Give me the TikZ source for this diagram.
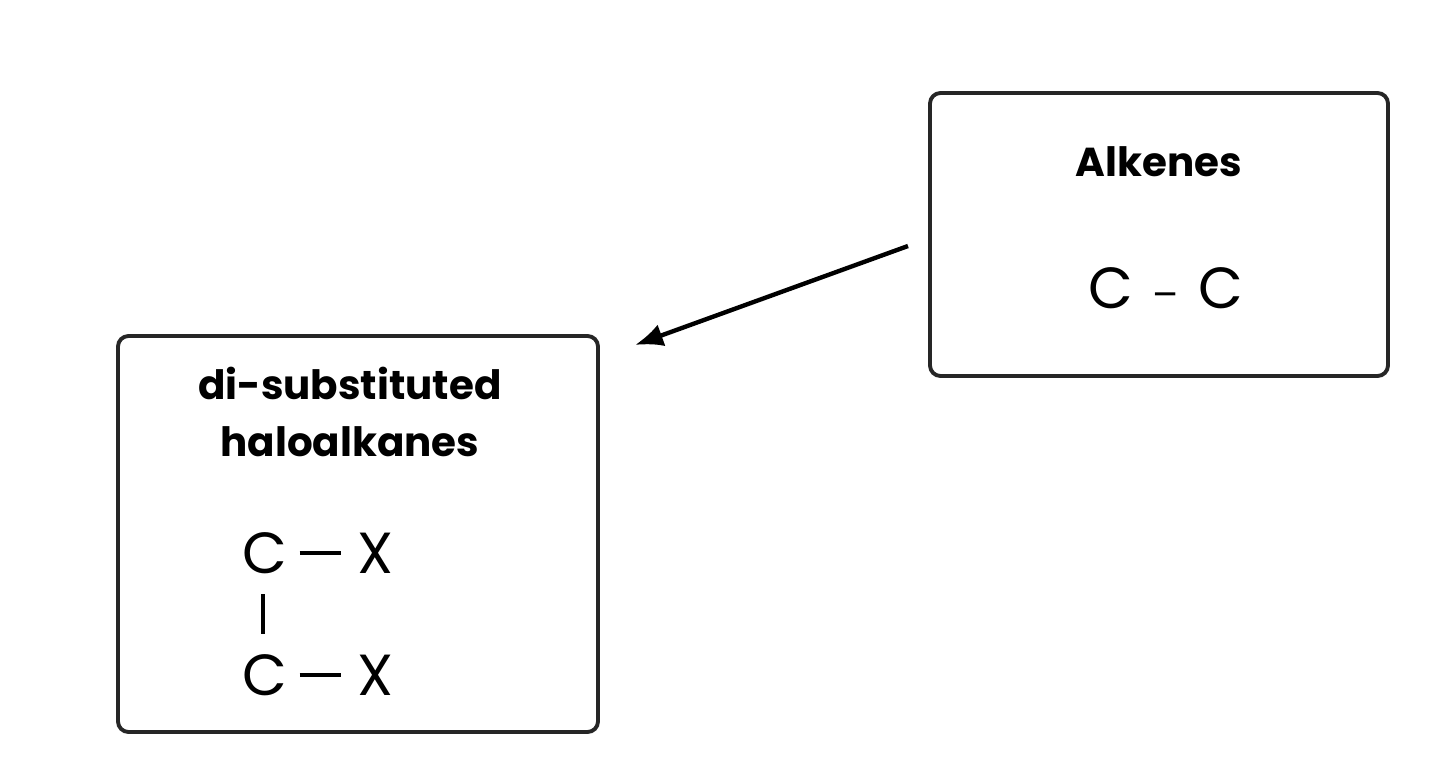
\documentclass[tikz,border=0pt]{standalone}
\usepackage{fontspec}
\setmainfont{Poppins}
\usetikzlibrary{calc,arrows.meta}
\begin{document}
\begin{tikzpicture}[x=0.02cm,y=-0.02cm,
  box/.style={draw=black!85,line width=2.2pt,rounded corners=6pt},
  title/.style={font=\fontsize{23}{30}\selectfont\bfseries,align=center},
  atom/.style={font=\fontsize{33}{36}\selectfont,inner sep=0pt},
  bond/.style={line width=1.8pt}]
\useasboundingbox (0,0) rectangle (1444,768);
\draw[box] (930,93) rectangle (1388,376);
\draw[box] (118,336) rectangle (598,732);
\node[title] (alk) at (1159,162) {Alkenes};
\node[atom] (cc) at (1166,288) {C\,\,{\fontsize{22}{24}\selectfont –}\,\,C};
\node[title,font=\fontsize{23}{32}\selectfont\bfseries] (hal) at (350,412) {di-substituted\\haloalkanes};
\node[atom] (c1) at (265,553) {C};
\node[atom] (x1) at (375,553) {X};
\node[atom] (c2) at (265,675) {C};
\node[atom] (x2) at (375,675) {X};
\draw[bond] ($(c1.east)+(12,0)$) -- ($(x1.west)+(-16,0)$);
\draw[bond] ($(c2.east)+(12,0)$) -- ($(x2.west)+(-16,0)$);
\draw[bond] ($(c1.south)+(-2,20)$) -- ($(c2.north)+(-2,-20)$);
\coordinate (s) at (908,246);
\coordinate (t) at (635,345);
\draw[line width=2.5pt,-{Latex[length=16pt,width=13pt]}] (s) -- (t);
\end{tikzpicture}
\end{document}
